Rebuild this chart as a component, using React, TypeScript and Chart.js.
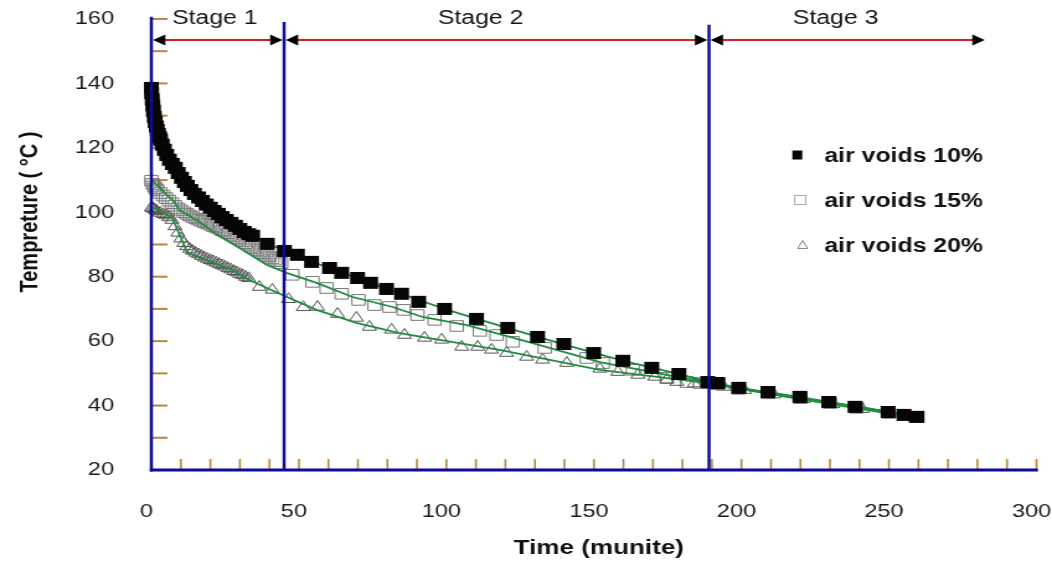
import React, { useEffect, useRef } from 'react';
import { Chart, registerables } from 'chart.js';

Chart.register(...registerables);

// ---------- data ----------
const time10 = [0, 0.1, 0.3, 0.5, 0.7, 1.0, 1.3, 1.7, 2.0, 2.4, 2.8, 3.1, 3.7, 4.4, 5.2, 6.1, 7.1, 8.1, 9.1, 10.2, 11.2, 12.2, 13.4, 14.6, 16.0, 17.3, 18.6, 20.0, 21.3, 22.7, 24.0, 25.4, 27.0, 28.5, 30.0, 31.5, 33.0, 34.3, 39.3, 45.1, 49.5, 54.3, 60.4, 64.5, 69.9, 74.3, 79.7, 84.8, 90.6, 99.4, 110.2, 120.8, 130.9, 139.8, 149.9, 159.8, 169.6, 178.8, 188.6, 192.0, 199.1, 209.0, 219.8, 229.6, 238.5, 249.7, 255.1, 259.5];
const temp10 = [138.6, 137.0, 135.0, 133.2, 131.5, 129.6, 128.0, 126.6, 125.5, 124.3, 123.3, 122.5, 121.0, 119.4, 117.8, 116.3, 115.0, 113.8, 112.2, 110.7, 109.4, 108.2, 106.9, 105.7, 104.6, 103.5, 102.4, 101.4, 100.4, 99.5, 98.5, 97.6, 96.7, 95.8, 94.8, 93.9, 93.2, 92.7, 90.2, 88.0, 86.8, 84.6, 82.7, 81.2, 79.6, 78.1, 76.2, 74.7, 72.2, 70.0, 66.9, 64.1, 61.3, 59.1, 56.3, 53.9, 51.7, 49.8, 47.3, 47.0, 45.5, 44.2, 42.7, 41.1, 39.6, 38.0, 37.1, 36.5];

const time15 = [0, 0.5, 1, 1.5, 2, 3, 4, 5, 6, 7, 8, 9, 10, 11, 12, 13, 14, 15, 16, 17, 18, 19, 20, 21, 22, 23, 24, 25, 26, 27, 28, 29, 30, 31, 32, 33, 34, 35, 36, 37, 38, 39, 40, 41, 42, 43, 44, 47.8, 54.6, 59.4, 64.5, 70.2, 75.6, 80.7, 85.5, 90.2, 96.0, 103.5, 111.3, 117.0, 122.5, 133.3, 147.6, 153.0, 163.2, 174.7, 181.5, 185.9, 192, 199, 209, 220, 230, 239, 250, 259];
const temp15 = [109.8, 108.8, 108.0, 107.4, 106.9, 106.0, 105.2, 104.4, 103.6, 102.8, 102.0, 101.2, 100.6, 100.0, 99.5, 99.0, 98.5, 98.1, 97.7, 97.3, 96.9, 96.5, 96.1, 95.7, 95.3, 94.9, 94.4, 94.0, 93.5, 93.0, 92.5, 92.0, 91.5, 91.0, 90.4, 89.9, 89.3, 88.8, 88.3, 87.8, 87.3, 86.8, 86.3, 85.8, 85.3, 84.8, 84.2, 80.6, 78.4, 76.5, 74.7, 72.8, 71.2, 70.6, 69.7, 68.1, 66.6, 64.7, 63.2, 61.9, 59.8, 57.9, 54.8, 53.2, 51.1, 48.6, 47.3, 47.0, 46.6, 45.2, 43.8, 42.3, 40.8, 39.3, 37.7, 36.4];

const time20 = [0, 0.5, 1, 1.5, 2, 3, 4, 5, 6, 7, 8, 9, 10, 11, 12, 13, 14, 15, 16, 17, 18, 19, 20, 21, 22, 23, 24, 25, 26, 27, 28, 29, 30, 31, 32, 33, 36.6, 41.0, 46.5, 51.5, 56.3, 63.1, 69.5, 73.9, 81.4, 85.8, 92.6, 98.4, 105.2, 110.6, 115.3, 120.4, 127.2, 132.6, 140.8, 152.0, 158.1, 164.9, 170.6, 174.7, 178.1, 184, 189, 194, 201, 211, 221, 231, 241, 251, 259];
const temp20 = [101.4, 101.2, 100.9, 100.6, 100.3, 99.8, 99.4, 99.0, 98.4, 97.6, 95.6, 93.6, 91.8, 90.4, 89.4, 88.6, 88.0, 87.4, 86.9, 86.4, 85.9, 85.5, 85.1, 84.7, 84.3, 83.9, 83.5, 83.1, 82.6, 82.2, 81.7, 81.3, 80.8, 80.4, 79.9, 79.5, 76.8, 75.9, 73.0, 70.5, 70.6, 68.4, 67.2, 64.4, 63.5, 61.9, 61.0, 60.4, 58.2, 58.2, 57.3, 56.3, 55.1, 54.2, 53.2, 51.4, 50.4, 49.5, 48.9, 48.0, 47.3, 46.8, 46.4, 45.8, 44.8, 43.4, 42.0, 40.4, 38.9, 37.4, 36.2];

// green trend lines
const fitTime10 = [0, 5, 10, 20, 34.3, 45, 60, 80, 100, 120, 140, 160, 180, 189, 200, 220, 240, 259.5];
const fitTemp10 = [138.6, 117.8, 110.7, 101.4, 92.7, 88.0, 82.8, 76.2, 69.8, 64.3, 58.9, 53.9, 49.5, 47.3, 45.4, 42.6, 39.5, 36.5];
const fitTime15 = [0, 7.8, 9.5, 16.3, 22.4, 29.9, 39, 45.8, 56, 68.2, 81.8, 91.9, 106.9, 129.2, 152, 174.7, 188.3, 199.5, 219.8, 240.2, 259.5];
const fitTemp15 = [110.1, 103.2, 100.7, 97.0, 93.0, 88.9, 83.7, 81.2, 78.1, 73.7, 70.6, 67.5, 65.0, 59.4, 53.5, 49.5, 47.3, 45.2, 42.4, 39.6, 36.5];
const fitTime20 = [0, 7.1, 12.2, 18.7, 27.5, 33.2, 44.4, 56, 69.5, 84.1, 97.7, 118, 152, 185.9, 219.8, 259.5];
const fitTemp20 = [101.7, 98.3, 87.4, 85.2, 82.1, 79.0, 74.3, 69.7, 65.7, 62.5, 60.4, 57.3, 51.1, 47.3, 42.0, 36.1];

const seriesLabels = ['air voids 10%', 'air voids 15%', 'air voids 20%'];

// axes
const xMin = 0, xMax = 300, xStep = 50;
const yMin = 20, yMax = 160, yStep = 20;
const xMinorTicks = [10, 20, 30, 40, 50, 60, 70, 80, 90, 100, 110, 120, 130, 140, 150, 160, 170, 180, 190, 200, 210, 220, 230, 240, 250, 260, 270, 280, 290, 300];
const yMinorTicks = [30, 40, 50, 60, 70, 80, 90, 100, 110, 120, 130, 140, 150, 160];

// stages
const stageBounds = [0, 45, 189, 283];
const stageNames = ['Stage 1', 'Stage 2', 'Stage 3'];
const stageLabelX = [21.5, 111.6, 231.9];

// ---------- layout ----------
const W = 1052, H = 562;
const SX = 1.24; // horizontal stretch of the reference picture
const CW = Math.round(W / SX);
const FONT = '"Liberation Sans", Arial, Helvetica, sans-serif';
const BLUE = '#0c0c96';
const GREEN = '#1f8c3e';
const TICK = '#b8873a';

const pts = (xs: number[], ys: number[]) => xs.map((x, i) => ({ x, y: ys[i] }));

const zeroPad = (s: any) => {
  s.paddingTop = 0; s.paddingBottom = 0; s.paddingLeft = 0; s.paddingRight = 0;
};

const decor = {
  id: 'decor',
  beforeDatasetsDraw(chart: any) {
    const { ctx, scales } = chart;
    const xs = scales.x, ys = scales.y;
    const x0 = xs.getPixelForValue(xMin);
    const y0 = ys.getPixelForValue(yMin);
    ctx.save();
    ctx.strokeStyle = TICK;
    ctx.lineWidth = 2;
    yMinorTicks.forEach((v) => {
      const p = ys.getPixelForValue(v);
      ctx.beginPath(); ctx.moveTo(x0 + 1, p); ctx.lineTo(x0 + 13, p); ctx.stroke();
    });
    ctx.lineWidth = 1.6;
    xMinorTicks.forEach((v) => {
      const p = xs.getPixelForValue(v);
      ctx.beginPath(); ctx.moveTo(p, y0 - 1); ctx.lineTo(p, y0 - 11); ctx.stroke();
    });
    ctx.restore();
  },
  afterDatasetsDraw(chart: any) {
    const { ctx, scales } = chart;
    const xs = scales.x, ys = scales.y;
    const x0 = xs.getPixelForValue(xMin);
    const y0 = ys.getPixelForValue(yMin);
    ctx.save();
    // blue axis lines
    ctx.strokeStyle = BLUE;
    ctx.lineWidth = 2.5;
    ctx.beginPath(); ctx.moveTo(x0, ys.getPixelForValue(160.7)); ctx.lineTo(x0, y0 + 1.5); ctx.stroke();
    ctx.lineWidth = 3;
    ctx.beginPath(); ctx.moveTo(x0 - 1.2, y0); ctx.lineTo(xs.getPixelForValue(300.5), y0); ctx.stroke();
    // stage lines
    ctx.lineWidth = 2.5;
    const tops = [159.1, 158.2];
    [stageBounds[1], stageBounds[2]].forEach((b, i) => {
      const p = xs.getPixelForValue(b);
      ctx.beginPath(); ctx.moveTo(p, ys.getPixelForValue(tops[i])); ctx.lineTo(p, y0); ctx.stroke();
    });
    // red arrows
    const ay = ys.getPixelForValue(153.5);
    for (let i = 0; i < stageNames.length; i++) {
      const a = xs.getPixelForValue(stageBounds[i]) + 1.3;
      const b = xs.getPixelForValue(stageBounds[i + 1]) - 1.3;
      ctx.strokeStyle = '#d82222';
      ctx.lineWidth = 2;
      ctx.beginPath(); ctx.moveTo(a + 4, ay); ctx.lineTo(b - 4, ay); ctx.stroke();
      ctx.fillStyle = '#000';
      ctx.beginPath(); ctx.moveTo(a, ay); ctx.lineTo(a + 10, ay - 5.5); ctx.lineTo(a + 10, ay + 5.5); ctx.closePath(); ctx.fill();
      ctx.beginPath(); ctx.moveTo(b, ay); ctx.lineTo(b - 10, ay - 5.5); ctx.lineTo(b - 10, ay + 5.5); ctx.closePath(); ctx.fill();
      // stage label
      ctx.fillStyle = '#151515';
      ctx.font = `20px ${FONT}`;
      ctx.textAlign = 'center';
      ctx.textBaseline = 'middle';
      ctx.fillText(stageNames[i], xs.getPixelForValue(stageLabelX[i]), ys.getPixelForValue(160.1));
    }
    // legend
    const lx = 664.5;
    const ly = [155, 200, 245];
    ctx.font = `bold 20px ${FONT}`;
    ctx.textAlign = 'left';
    ctx.textBaseline = 'middle';
    ctx.fillStyle = '#111';
    seriesLabels.forEach((t, i) => ctx.fillText(t, lx, ly[i] + 1));
    ctx.fillStyle = '#000';
    ctx.fillRect(642.7 - 4, ly[0] - 4.5, 8, 9);
    ctx.strokeStyle = '#a8a8a8';
    ctx.lineWidth = 1;
    ctx.strokeRect(645 - 4.5, ly[1] - 4.5, 9, 9);
    ctx.strokeStyle = '#8a8a8a';
    ctx.beginPath(); ctx.moveTo(647, ly[2] - 4.5); ctx.lineTo(651, ly[2] + 3.5); ctx.lineTo(643, ly[2] + 3.5); ctx.closePath(); ctx.stroke();
    // axis titles
    ctx.fillStyle = '#111';
    ctx.font = `bold 21px ${FONT}`;
    ctx.textAlign = 'center';
    ctx.fillText('Time (munite)', 482.7, 548);
    ctx.translate(24.5, 212);
    ctx.rotate(-Math.PI / 2);
    ctx.font = `bold 20px ${FONT}`;
    ctx.fillText('Tempreture ( °C )', 0, 0);
    ctx.restore();
  },
};

export default function App() {
  const ref = useRef<HTMLCanvasElement>(null);
  useEffect(() => {
    const canvas = ref.current!;
    const chart = new Chart(canvas, {
      type: 'scatter',
      data: {
        datasets: [
          {
            label: seriesLabels[0], data: pts(time10, temp10), pointStyle: 'rect', pointRadius: 8.5,
            backgroundColor: '#060606', borderColor: '#060606', borderWidth: 0, showLine: false, clip: false, order: 0,
          },
          {
            label: 'fit10', data: pts(fitTime10, fitTemp10), showLine: true, pointRadius: 0,
            borderColor: GREEN, borderWidth: 1.8, tension: 0, clip: false, order: 1,
          },
          {
            label: 'fit15', data: pts(fitTime15, fitTemp15), showLine: true, pointRadius: 0,
            borderColor: GREEN, borderWidth: 1.8, tension: 0, clip: false, order: 1,
          },
          {
            label: 'fit20', data: pts(fitTime20, fitTemp20), showLine: true, pointRadius: 0,
            borderColor: GREEN, borderWidth: 1.8, tension: 0, clip: false, order: 1,
          },
          {
            label: seriesLabels[2], data: pts(time20, temp20), pointStyle: 'triangle', pointRadius: 6.5,
            backgroundColor: 'rgba(0,0,0,0)', borderColor: '#555555', borderWidth: 1, showLine: false, clip: false, order: 2,
          },
          {
            label: seriesLabels[1], data: pts(time15, temp15), pointStyle: 'rect', pointRadius: 7.5,
            backgroundColor: 'rgba(0,0,0,0)', borderColor: '#777777', borderWidth: 1, showLine: false, clip: false, order: 3,
          },
        ],
      },
      options: {
        responsive: false,
        animation: false,
        devicePixelRatio: 1,
        events: [],
        layout: { autoPadding: false, padding: { top: 19, right: CW - 835.5, left: 0, bottom: 0 } },
        plugins: { legend: { display: false }, tooltip: { enabled: false } },
        scales: {
          x: {
            type: 'linear', min: xMin, max: xMax,
            grid: { display: false, drawTicks: false },
            border: { display: false },
            ticks: {
              stepSize: xStep, font: { family: FONT, size: 19 }, color: '#1a1a1a',
              padding: 30, labelOffset: -4, maxRotation: 0, autoSkip: false,
            },
            afterFit: (s: any) => { s.height = 92; zeroPad(s); },
          },
          y: {
            type: 'linear', min: yMin, max: yMax,
            grid: { display: false, drawTicks: false },
            border: { display: false },
            ticks: { stepSize: yStep, font: { family: FONT, size: 19 }, color: '#1a1a1a', padding: 30 },
            afterFit: (s: any) => { s.width = 122; zeroPad(s); },
          },
        },
      },
      plugins: [decor],
    } as any);
    return () => chart.destroy();
  }, []);
  return (
    <div style={{ position: 'fixed', left: 0, top: 0, width: W, height: H, background: '#fff' }}>
      <canvas ref={ref} width={CW} height={H} style={{ width: `${W}px`, height: `${H}px`, display: 'block' }} />
    </div>
  );
}
